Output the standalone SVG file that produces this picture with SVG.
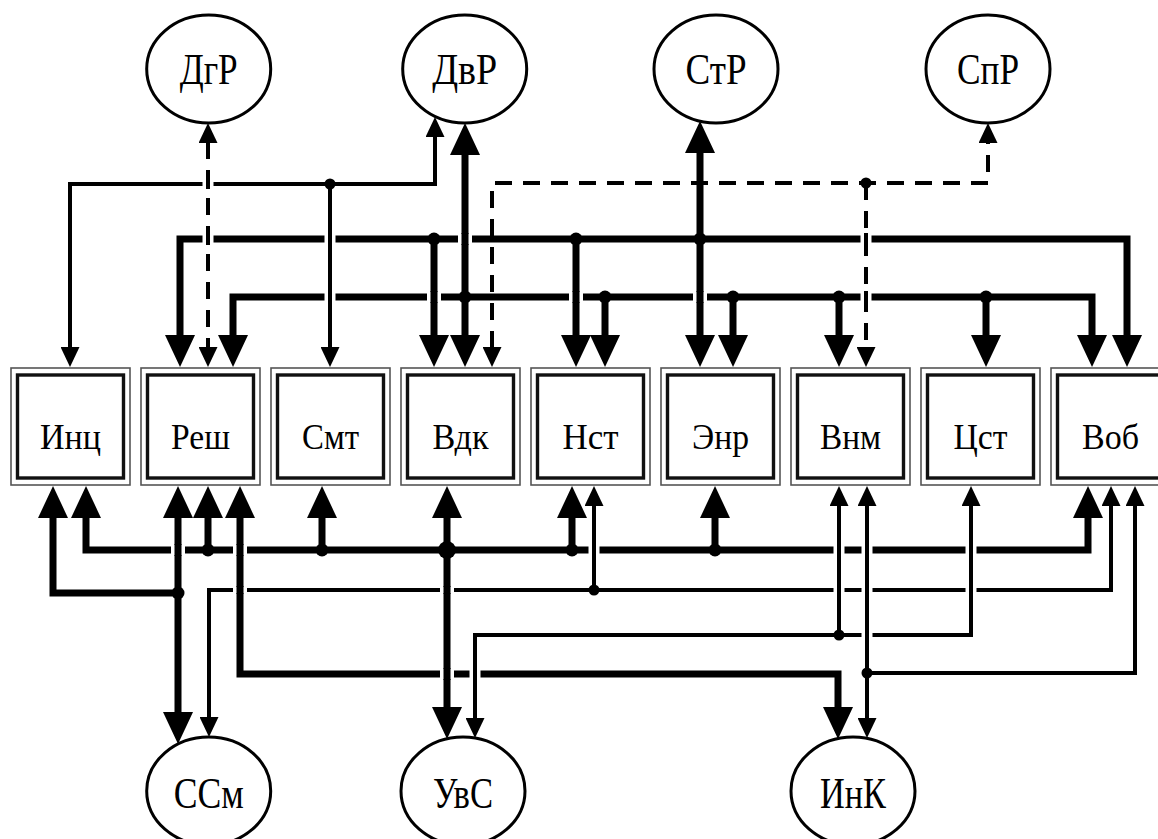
<svg xmlns="http://www.w3.org/2000/svg" width="1158" height="839" viewBox="0 0 1158 839">
<style>
.bg{fill:#fff}
.thick{fill:none;stroke:#000;stroke-width:7}
.thin{fill:none;stroke:#000;stroke-width:4}
.dash{fill:none;stroke:#000;stroke-width:4;stroke-dasharray:17 11}
.halo{stroke:#fff}
.bk{stroke:#000}
.dot{fill:#000}
.outer{fill:#fff;stroke:#555;stroke-width:1.6}
.inner{fill:#fff;stroke:#111;stroke-width:3.4}
.ell{fill:#fff;stroke:#000;stroke-width:3}
.lbl{font-family:"Liberation Serif","Times New Roman",serif;font-size:36px;fill:#000;text-anchor:middle}
.elbl{font-family:"Liberation Serif","Times New Roman",serif;font-size:45px;fill:#000;text-anchor:middle}
.big{marker-start:url(#aB);marker-end:url(#aB)}
.bigE{marker-end:url(#aB)}
.bigS{marker-start:url(#aB)}
.sm{marker-start:url(#aS);marker-end:url(#aS)}
.smE{marker-end:url(#aS)}
</style>
<defs>
<marker id="aB" markerUnits="userSpaceOnUse" markerWidth="32" markerHeight="30" viewBox="0 0 32 30" refX="1" refY="15" orient="auto-start-reverse"><path d="M0,0 L32,15 L0,30 z" fill="#000"/></marker>
<marker id="aS" markerUnits="userSpaceOnUse" markerWidth="20" markerHeight="19" viewBox="0 0 20 19" refX="1" refY="9.5" orient="auto-start-reverse"><path d="M0,0 L20,9.5 L0,19 z" fill="#000"/></marker>
</defs>
<rect class="bg" x="0" y="0" width="1158" height="839"/>

<g id="connectors">
  <path class="dash sm" d="M208,142 V348"/>
  <path class="dash sm" d="M492,348 V183 H988 V142"/>
  <path class="dash smE" d="M866,183 V348"/>
  <path class="thin sm" d="M70,348 V184 H435 V136"/>
  <path class="thin smE" d="M330,184 V348"/>
  <path class="thick big" d="M180,336 V239 H1127 V336"/>
  <path class="thick bigE" d="M434,239 V336"/>
  <path class="thick bigE" d="M576,239 V336"/>
  <path class="thick big" d="M700,152 V336"/>
  <path class="thick big" d="M233,336 V297 H1092 V336"/>
  <path class="thick big" d="M465,154 V336"/>
  <path class="thick bigE" d="M605,297 V336"/>
  <path class="thick bigE" d="M733,297 V336"/>
  <path class="thick bigE" d="M839,297 V336"/>
  <path class="thick bigE" d="M986,297 V336"/>

  <path class="thick big" d="M86,517 V550 H1088 V517"/>
  <path class="thick bigE" d="M208,550 V517"/>
  <path class="thick bigE" d="M322,550 V517"/>
  <path class="thick bigE" d="M572,550 V517"/>
  <path class="thick bigE" d="M715,550 V517"/>
  <path class="thick big" d="M447,517 V708"/>
  <path class="thick big" d="M178,517 V713"/>
  <path class="thick bigS" d="M53,517 V593 H178"/>
  <path class="thick big" d="M240,517 V674 H838 V708"/>
  <path class="thin sm" d="M209,718 V590 H1111 V505"/>
  <path class="thin smE" d="M594,590 V505"/>
  <path class="thin sm" d="M475,719 V635 H971 V505"/>
  <path class="thin smE" d="M839,635 V505"/>
  <path class="thin sm" d="M867,505 V719"/>
  <path class="thin smE" d="M867,673 H1135 V505"/>

  <g class="halo" stroke-width="11">
    <line x1="208" y1="180" x2="208" y2="188"/>
    <line x1="208" y1="234" x2="208" y2="244"/>
    <line x1="330" y1="234" x2="330" y2="244"/>
    <line x1="330" y1="292" x2="330" y2="302"/>
    <line x1="866" y1="234" x2="866" y2="244"/>
    <line x1="866" y1="292" x2="866" y2="302"/>
    <line x1="594" y1="545" x2="594" y2="555"/>
    <line x1="839" y1="545" x2="839" y2="555"/>
    <line x1="839" y1="587" x2="839" y2="593"/>
    <line x1="867" y1="545" x2="867" y2="555"/>
    <line x1="867" y1="587" x2="867" y2="593"/>
    <line x1="867" y1="632" x2="867" y2="638"/>
    <line x1="971" y1="545" x2="971" y2="555"/>
    <line x1="971" y1="587" x2="971" y2="593"/>
    <line x1="475" y1="669" x2="475" y2="679"/>
  </g>
  <g class="halo" stroke-width="14">
    <line x1="465" y1="234" x2="465" y2="244"/>
    <line x1="434" y1="292" x2="434" y2="302"/>
    <line x1="576" y1="292" x2="576" y2="302"/>
    <line x1="700" y1="292" x2="700" y2="302"/>
    <line x1="178" y1="545" x2="178" y2="555"/>
    <line x1="240" y1="545" x2="240" y2="555"/>
    <line x1="240" y1="587" x2="240" y2="593"/>
    <line x1="447" y1="587" x2="447" y2="593"/>
    <line x1="447" y1="669" x2="447" y2="679"/>
  </g>
  <g class="bk" stroke-width="4">
    <line x1="208" y1="179" x2="208" y2="189"/>
    <line x1="208" y1="233" x2="208" y2="245"/>
    <line x1="330" y1="233" x2="330" y2="245"/>
    <line x1="330" y1="291" x2="330" y2="303"/>
    <line x1="866" y1="233" x2="866" y2="245"/>
    <line x1="866" y1="291" x2="866" y2="303"/>
    <line x1="594" y1="544" x2="594" y2="556"/>
    <line x1="839" y1="544" x2="839" y2="556"/>
    <line x1="839" y1="586" x2="839" y2="594"/>
    <line x1="867" y1="544" x2="867" y2="556"/>
    <line x1="867" y1="586" x2="867" y2="594"/>
    <line x1="867" y1="631" x2="867" y2="639"/>
    <line x1="971" y1="544" x2="971" y2="556"/>
    <line x1="971" y1="586" x2="971" y2="594"/>
    <line x1="475" y1="668" x2="475" y2="680"/>
  </g>
  <g class="bk" stroke-width="7">
    <line x1="465" y1="233" x2="465" y2="245"/>
    <line x1="434" y1="291" x2="434" y2="303"/>
    <line x1="576" y1="291" x2="576" y2="303"/>
    <line x1="700" y1="291" x2="700" y2="303"/>
    <line x1="178" y1="544" x2="178" y2="556"/>
    <line x1="240" y1="544" x2="240" y2="556"/>
    <line x1="240" y1="586" x2="240" y2="594"/>
    <line x1="447" y1="586" x2="447" y2="594"/>
    <line x1="447" y1="668" x2="447" y2="680"/>
  </g>

  <circle class="dot" cx="330" cy="184" r="5.5"/>
  <circle class="dot" cx="866" cy="183" r="5.5"/>
  <circle class="dot" cx="434" cy="239" r="6.5"/>
  <circle class="dot" cx="576" cy="239" r="6.5"/>
  <circle class="dot" cx="700" cy="239" r="6.5"/>
  <circle class="dot" cx="465" cy="297" r="6.5"/>
  <circle class="dot" cx="605" cy="297" r="6.5"/>
  <circle class="dot" cx="733" cy="297" r="6.5"/>
  <circle class="dot" cx="839" cy="297" r="6.5"/>
  <circle class="dot" cx="986" cy="297" r="6.5"/>
  <circle class="dot" cx="208" cy="550" r="6.5"/>
  <circle class="dot" cx="322" cy="550" r="6.5"/>
  <circle class="dot" cx="447" cy="550" r="9"/>
  <circle class="dot" cx="572" cy="550" r="6.5"/>
  <circle class="dot" cx="715" cy="550" r="6.5"/>
  <circle class="dot" cx="178" cy="593" r="6.5"/>
  <circle class="dot" cx="594" cy="590" r="5.5"/>
  <circle class="dot" cx="839" cy="635" r="5.5"/>
  <circle class="dot" cx="867" cy="673" r="5.5"/>
</g>

<g id="n-inc"><rect class="outer" x="11" y="368" width="119" height="117"/><rect class="inner" x="17.5" y="375" width="106" height="103"/><text class="lbl" x="70.5" y="449" textLength="61" lengthAdjust="spacingAndGlyphs">Инц</text></g>
<g id="n-resh"><rect class="outer" x="141" y="368" width="119" height="117"/><rect class="inner" x="147.5" y="375" width="106" height="103"/><text class="lbl" x="200.5" y="449" textLength="59" lengthAdjust="spacingAndGlyphs">Реш</text></g>
<g id="n-smt"><rect class="outer" x="271" y="368" width="119" height="117"/><rect class="inner" x="277.5" y="375" width="106" height="103"/><text class="lbl" x="330.5" y="449" textLength="57" lengthAdjust="spacingAndGlyphs">Смт</text></g>
<g id="n-vdk"><rect class="outer" x="401" y="368" width="119" height="117"/><rect class="inner" x="407.5" y="375" width="106" height="103"/><text class="lbl" x="460.5" y="449" textLength="56" lengthAdjust="spacingAndGlyphs">Вдк</text></g>
<g id="n-nst"><rect class="outer" x="531" y="368" width="119" height="117"/><rect class="inner" x="537.5" y="375" width="106" height="103"/><text class="lbl" x="590.5" y="449" textLength="56" lengthAdjust="spacingAndGlyphs">Нст</text></g>
<g id="n-enr"><rect class="outer" x="661" y="368" width="119" height="117"/><rect class="inner" x="667.5" y="375" width="106" height="103"/><text class="lbl" x="720.5" y="449" textLength="57" lengthAdjust="spacingAndGlyphs">Энр</text></g>
<g id="n-vnm"><rect class="outer" x="791" y="368" width="119" height="117"/><rect class="inner" x="797.5" y="375" width="106" height="103"/><text class="lbl" x="850.5" y="449" textLength="61" lengthAdjust="spacingAndGlyphs">Внм</text></g>
<g id="n-cst"><rect class="outer" x="921" y="368" width="119" height="117"/><rect class="inner" x="927.5" y="375" width="106" height="103"/><text class="lbl" x="980.5" y="449" textLength="54" lengthAdjust="spacingAndGlyphs">Цст</text></g>
<g id="n-vob"><rect class="outer" x="1051" y="368" width="119" height="117"/><rect class="inner" x="1057.5" y="375" width="106" height="103"/><text class="lbl" x="1110.5" y="449" textLength="57" lengthAdjust="spacingAndGlyphs">Воб</text></g>

<g id="n-dgr"><ellipse class="ell" cx="208.7" cy="69" rx="62" ry="54"/><text class="elbl" x="208.7" y="84" textLength="58" lengthAdjust="spacingAndGlyphs">ДгР</text></g>
<g id="n-dvr"><ellipse class="ell" cx="464.7" cy="69" rx="62" ry="54"/><text class="elbl" x="464.7" y="84" textLength="65" lengthAdjust="spacingAndGlyphs">ДвР</text></g>
<g id="n-str"><ellipse class="ell" cx="716" cy="69" rx="62" ry="54"/><text class="elbl" x="716" y="84" textLength="61" lengthAdjust="spacingAndGlyphs">СтР</text></g>
<g id="n-spr"><ellipse class="ell" cx="988" cy="69" rx="62" ry="54"/><text class="elbl" x="988" y="84" textLength="62" lengthAdjust="spacingAndGlyphs">СпР</text></g>
<g id="n-ssm"><ellipse class="ell" cx="208.7" cy="791" rx="62" ry="54"/><text class="elbl" x="208.7" y="808" textLength="70" lengthAdjust="spacingAndGlyphs">ССм</text></g>
<g id="n-uvs"><ellipse class="ell" cx="463" cy="791" rx="62" ry="54"/><text class="elbl" x="463" y="808" textLength="60" lengthAdjust="spacingAndGlyphs">УвС</text></g>
<g id="n-ink"><ellipse class="ell" cx="853" cy="791" rx="62" ry="54"/><text class="elbl" x="853" y="808" textLength="66" lengthAdjust="spacingAndGlyphs">ИнК</text></g>
</svg>
